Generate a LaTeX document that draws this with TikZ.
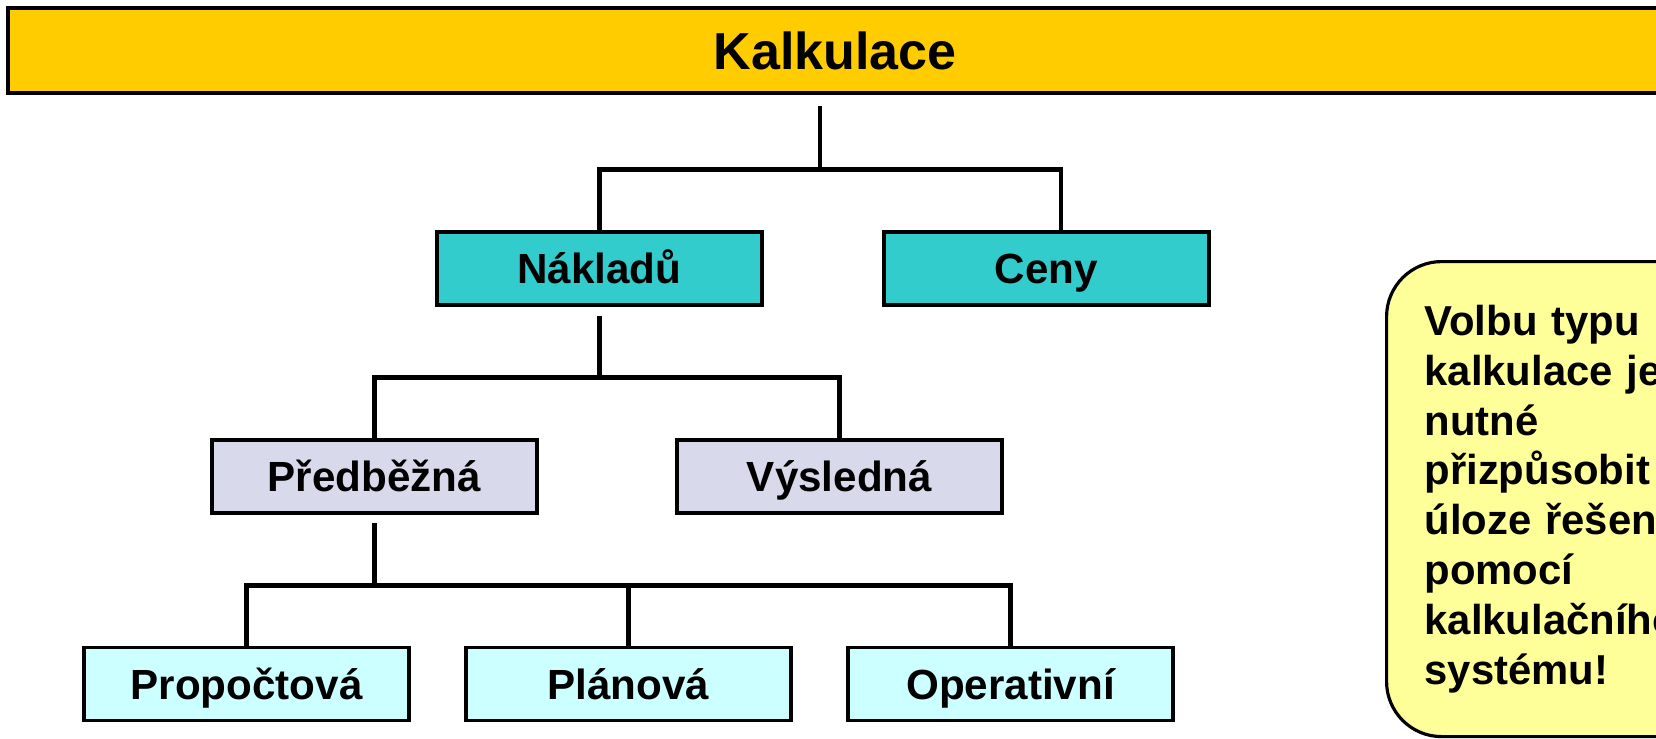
\documentclass[tikz,border=0pt]{standalone}
\usepackage{fontspec}
\setmainfont{Liberation Sans}
\usetikzlibrary{positioning}

\definecolor{kalkyellow}{HTML}{FFCC00}
\definecolor{leveloneteal}{HTML}{33CCCC}
\definecolor{leveltwolilac}{HTML}{D9D9EC}
\definecolor{levelthreecyan}{HTML}{CCFFFF}
\definecolor{noteyellow}{HTML}{FFFF99}

\tikzstyle{titlebar} = [rectangle, draw = black, line width = 1pt, fill = kalkyellow, minimum width = 16.54cm, minimum height = 0.85cm, inner sep = 0pt, text height = 10.6pt, text depth = 0pt, font = \bfseries\fontsize{14.8}{17}\selectfont]
\tikzstyle{kalknode} = [rectangle, draw = black, line width = 0.9pt, minimum width = 3.25cm, minimum height = 0.73cm, inner sep = 0pt, text height = 8.6pt, text depth = 0pt, font = \bfseries\fontsize{12}{14}\selectfont]
\tikzstyle{notebox} = [rectangle, rounded corners = 0.55cm, draw = black, line width = 0.9pt, fill = noteyellow, minimum height = 4.75cm, text width = 3.8cm, inner xsep = 0.38cm, align = left, font = \bfseries\fontsize{11.9}{14.2}\selectfont]
\tikzstyle{link} = [draw = black, line width = 1.3pt]

\begin{document}
\begin{tikzpicture}[node distance = 3.82cm]
			\clip (0,0) rectangle (16.56,7.38);
			\node[titlebar] (kalk) at (8.35,6.875) {Kalkulace};
			\node[kalknode, fill = leveloneteal] (naklady) at (5.995,4.695) {Nákladů};
			\node[kalknode, fill = leveloneteal, node distance = 4.47cm, right of = naklady] (ceny) {Ceny};
			\node[kalknode, fill = leveltwolilac] (predbezna) at (3.745,2.615) {Předběžná};
			\node[kalknode, fill = leveltwolilac, node distance = 4.65cm, right of = predbezna] (vysledna) {Výsledná};
			\node[kalknode, fill = levelthreecyan] (propoctova) at (2.465,0.54) {Propočtová};
			\node[kalknode, fill = levelthreecyan, right of = propoctova] (planova) {Plánová};
			\node[kalknode, fill = levelthreecyan, right of = planova] (operativni) {Operativní};
			\node[notebox, anchor = north west] (volba) at (13.85,4.78) {Volbu typu\\ kalkulace je\\ nutné\\ přizpůsobit\\ úloze řešení\\ pomocí\\ kalkulačního\\ systému!};
			% Kalkulace
			\draw[link, shorten <= 0.11cm] ([xshift = -0.15cm]kalk.south) -- ++(0,-0.75) coordinate (bus1);
			\draw[link] (naklady.north) |- (bus1) -| ([xshift = 0.145cm]ceny.north);
			% Nakladu
			\draw[link, shorten <= 0.09cm] (naklady.south) -- ++(0,-0.71) coordinate (bus2);
			\draw[link] (predbezna.north) |- (bus2) -| (vysledna.north);
			% Predbezna
			\draw[link, shorten <= 0.08cm] (predbezna.south) -- ++(0,-0.71) coordinate (bus3);
			\draw[link] (propoctova.north) |- (bus3) -| (operativni.north);
			\draw[link] (planova.north) -- (planova.north |- bus3);
		\end{tikzpicture}
\end{document}
